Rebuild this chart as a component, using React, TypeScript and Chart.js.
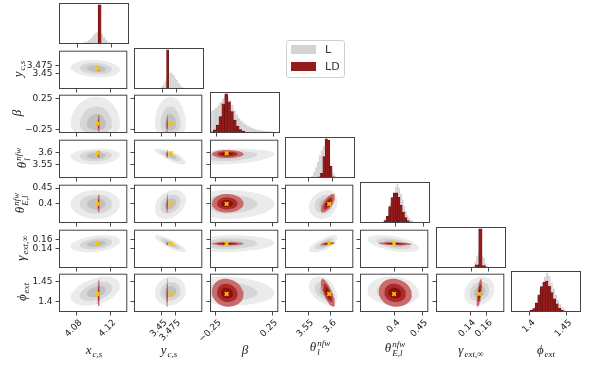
import React, { useEffect, useRef } from 'react';
import { Chart, registerables } from 'chart.js';

Chart.register(...registerables);

// ---------------- data ----------------
const axisMin = [4.059, 3.399, -0.303, 3.499, 0.3375, 0.099, 1.374];
const axisMax = [4.14, 3.525, 0.305, 3.649, 0.461, 0.181, 1.47];
const tickValues = [[4.08, 4.12], [3.45, 3.475], [-0.25, 0.25], [3.55, 3.6], [0.4, 0.45], [0.14, 0.16], [1.4, 1.45]];
const tickLabels = [['4.08', '4.12'], ['3.45', '3.475'], ['\u22120.25', '0.25'], ['3.55', '3.6'], ['0.4', '0.45'], ['0.14', '0.16'], ['1.4', '1.45']];
const truthValues = [4.105, 3.467, -0.155, 3.596, 0.399, 0.151, 1.419];

// histogram bins: [first bin centre, bin width] and heights
const xcsBinsL = [4.08375, 0.0025];
const xcsCountsL = [1, 2, 4, 6, 9, 14, 21, 27, 30, 28, 25, 17, 10, 5, 3, 1.5, 0.7];
const xcsBinsLD = [4.1025, 0.0035];
const xcsCountsLD = [0, 100, 0];
const ycsBinsL = [3.4465, 0.003];
const ycsCountsL = [2, 6, 11, 20, 30, 38, 42, 40, 35, 28, 22, 15, 9, 4, 2];
const ycsBinsLD = [3.4558, 0.0037];
const ycsCountsLD = [0, 100, 0];
const betaBinsL = [-0.29, 0.02];
const betaCountsL = [56, 59, 64, 70, 79, 88, 95, 93, 84, 72, 58, 47, 38, 31, 25, 21, 17, 14, 11.5, 9.5, 8, 7, 6, 5, 4.5, 4, 3.2, 2.6, 2.2, 1.8];
const betaBinsLD = [-0.2875, 0.025];
const betaCountsLD = [3, 8, 20, 42, 75, 100, 80, 55, 33, 18, 9, 4, 2, 1];
const thetaLBinsL = [3.554, 0.004];
const thetaLCountsL = [2, 6, 15, 27, 42, 58, 71, 82, 90, 75, 45, 26, 12, 6, 2, 1];
const thetaLBinsLD = [3.5725, 0.005];
const thetaLCountsLD = [3, 12, 55, 100, 97, 30, 3];
const thetaEBinsL = [0.3735, 0.003];
const thetaECountsL = [1, 2, 5, 10, 18, 33, 50, 65, 80, 92, 100, 90, 75, 60, 43, 30, 20, 12, 7, 4, 2.5, 1.5, 1];
const thetaEBinsLD = [0.378, 0.004];
const thetaECountsLD = [2, 6, 18, 42, 65, 76, 77, 66, 45, 28, 14, 6, 3, 1];
const gammaBinsL = [0.141, 0.002];
const gammaCountsL = [2, 5, 16, 30, 38, 40, 32, 26, 12, 4, 1.5];
const gammaBinsLD = [0.147, 0.004];
const gammaCountsLD = [8, 100, 6];
const phiBinsL = [1.3965, 0.003];
const phiCountsL = [1, 2, 5, 11, 26, 40, 58, 75, 90, 100, 92, 75, 60, 44, 30, 20, 12, 6, 3, 2, 1];
const phiBinsLD = [1.3985, 0.0035];
const phiCountsLD = [1, 4, 9, 22, 44, 65, 76, 79, 66, 50, 34, 21, 10, 4, 1];

// 2-D contour summaries: centre and lower / upper half-extent of the innermost contour
const centerL = [4.104, 3.466, -0.17, 3.588, 0.4, 0.151, 1.424];
const spreadLoL = [0.012, 0.011, 0.09, 0.014, 0.019, 0.007, 0.013];
const spreadHiL = [0.0105, 0.011, 0.17, 0.01, 0.017, 0.007, 0.015];
const centerLD = [4.106, 3.46, -0.156, 3.593, 0.4, 0.151, 1.421];
const spreadLoLD = [0.0005, 0.0006, 0.05, 0.006, 0.011, 0.0013, 0.013];
const spreadHiLD = [0.0005, 0.0006, 0.058, 0.006, 0.012, 0.0013, 0.014];
// correlations (row r, column c < r)
const corrRowsL = [[], [-0.15], [0, 0], [0.1, -0.8, 0.2], [0, 0.3, 0, 0.2], [0.3, -0.85, 0.1, 0.7, -0.5], [0.4, 0.1, -0.1, -0.4, -0.1, 0.2]];
const corrRowsLD = [[], [0], [0, 0], [0, 0, 0], [0, 0, 0, 0.7], [0, 0, 0, 0.5, -0.3], [0, 0, -0.1, -0.75, -0.1, 0.6]];

const binsL = [xcsBinsL, ycsBinsL, betaBinsL, thetaLBinsL, thetaEBinsL, gammaBinsL, phiBinsL];
const countsL = [xcsCountsL, ycsCountsL, betaCountsL, thetaLCountsL, thetaECountsL, gammaCountsL, phiCountsL];
const binsLD = [xcsBinsLD, ycsBinsLD, betaBinsLD, thetaLBinsLD, thetaEBinsLD, gammaBinsLD, phiBinsLD];
const countsLD = [xcsCountsLD, ycsCountsLD, betaCountsLD, thetaLCountsLD, thetaECountsLD, gammaCountsLD, phiCountsLD];

// ---------------- layout / style ----------------
const COL_LEFT = [59, 134, 210, 285, 360, 436, 511];
const ROW_TOP = [3, 48, 92, 137, 182, 227, 271];
const PW = 70;
const PH = 41;
const ML = 42;
const MR = 4;
const MT = 3;
const MB = 36;
const CW = ML + PW + MR;
const CH = MT + PH + MB;
const LEVELS = [2.6, 1.7, 1.0];
const GRAY_LEVELS = ['#ebebeb', '#d6d6d6', '#c0c0c0'];
const RED_LEVELS = ['#c96b6b', '#ab2b2b', '#8a0e0e'];
const GRAY_BAR = '#d3d3d3';
const RED_BAR = '#931b1b';
const tickFont = { family: "'DejaVu Sans', sans-serif", size: 9 };
const mathFont = "'Liberation Serif', 'DejaVu Serif', serif";

const framePlugin = {
  id: 'frame',
  afterDraw(chart: any) {
    const { ctx, chartArea: a } = chart;
    ctx.save();
    ctx.strokeStyle = '#444';
    ctx.lineWidth = 1;
    ctx.strokeRect(a.left + 0.5, a.top + 0.5, a.right - a.left - 1, a.bottom - a.top - 1);
    ctx.restore();
  },
};

function xAxis(c: number, labels: boolean) {
  return {
    type: 'linear',
    min: axisMin[c],
    max: axisMax[c],
    offset: false,
    grid: { display: true, drawOnChartArea: false, drawTicks: true, tickLength: 3.5, tickWidth: 0.9, tickColor: '#333', offset: false },
    border: { display: false },
    ticks: {
      display: labels, autoSkip: false, minRotation: 45, maxRotation: 45, padding: 2, labelOffset: 4,
      font: tickFont, color: '#222',
      callback: (_v: any, i: number) => tickLabels[c][i],
    },
    afterBuildTicks: (s: any) => { s.ticks = tickValues[c].map((v) => ({ value: v })); },
    afterFit: (s: any) => { s.height = MB; s.paddingLeft = 0; s.paddingRight = 0; s.paddingTop = 0; s.paddingBottom = 0; },
  };
}

function yAxis(r: number, labels: boolean) {
  return {
    type: 'linear',
    min: axisMin[r],
    max: axisMax[r],
    grid: { display: true, drawOnChartArea: false, drawTicks: true, tickLength: 3.5, tickWidth: 0.9, tickColor: '#333' },
    border: { display: false },
    ticks: {
      display: labels, autoSkip: false, padding: 3, font: tickFont, color: '#222',
      callback: (_v: any, i: number) => tickLabels[r][i],
    },
    afterBuildTicks: (s: any) => { s.ticks = tickValues[r].map((v) => ({ value: v })); },
    afterFit: (s: any) => { s.width = ML; s.paddingLeft = 0; s.paddingRight = 0; s.paddingTop = 0; s.paddingBottom = 0; },
  };
}

function histPoints(bins: number[], counts: number[]) {
  return counts.map((h, i) => ({ x: bins[0] + i * bins[1], y: h }));
}

function histConfig(c: number): any {
  const ymax = Math.max(...countsL[c], ...countsLD[c]) * 1.05;
  return {
    type: 'bar',
    data: {
      datasets: [
        {
          data: histPoints(binsLD[c], countsLD[c]), xAxisID: 'x2', yAxisID: 'y',
          backgroundColor: RED_BAR, borderColor: '#6a0c0c', borderWidth: 0.6,
          grouped: false, barPercentage: 1, categoryPercentage: 1, order: 1,
        },
        {
          data: histPoints(binsL[c], countsL[c]), xAxisID: 'x', yAxisID: 'y',
          backgroundColor: GRAY_BAR, borderColor: '#e6e6e6', borderWidth: 0.4,
          grouped: false, barPercentage: 1, categoryPercentage: 1, order: 2,
        },
      ],
    },
    options: {
      animation: false, responsive: false, devicePixelRatio: 1, events: [],
      layout: { padding: { left: 0, right: MR, top: MT, bottom: 0 } },
      plugins: { legend: { display: false }, tooltip: { enabled: false } },
      scales: {
        x: xAxis(c, c === 6),
        x2: {
          type: 'linear', display: false, min: axisMin[c], max: axisMax[c], offset: false,
          afterBuildTicks: (s: any) => { s.ticks = [{ value: axisMin[c] }]; },
        },
        y: {
          type: 'linear', min: 0, max: ymax,
          grid: { display: false }, border: { display: false }, ticks: { display: false },
          afterFit: (s: any) => { s.width = ML; s.paddingTop = 0; s.paddingBottom = 0; },
        },
      },
    },
    plugins: [framePlugin],
  };
}

function contour(c: number, r: number, center: number[], lo: number[], hi: number[], rho: number, k: number) {
  const pts: { x: number; y: number }[] = [];
  const n = 72;
  const q = Math.sqrt(1 - rho * rho);
  for (let i = 0; i <= n; i++) {
    const t = (2 * Math.PI * i) / n;
    const zx = Math.cos(t);
    const zy = rho * Math.cos(t) + q * Math.sin(t);
    pts.push({
      x: center[c] + k * (zx < 0 ? lo[c] : hi[c]) * zx,
      y: center[r] + k * (zy < 0 ? lo[r] : hi[r]) * zy,
    });
  }
  return pts;
}

function pairConfig(r: number, c: number): any {
  const datasets: any[] = [];
  LEVELS.forEach((k, i) => {
    datasets.push({
      type: 'line', data: contour(c, r, centerL, spreadLoL, spreadHiL, corrRowsL[r][c], k),
      backgroundColor: GRAY_LEVELS[i], borderWidth: 0, pointRadius: 0, fill: 'shape', tension: 0, order: 30 - i,
    });
  });
  LEVELS.forEach((k, i) => {
    datasets.push({
      type: 'line', data: contour(c, r, centerLD, spreadLoLD, spreadHiLD, corrRowsLD[r][c], k),
      backgroundColor: RED_LEVELS[i], borderWidth: 0, pointRadius: 0, fill: 'shape', tension: 0, order: 20 - i,
    });
  });
  datasets.push({
    type: 'line', data: [{ x: truthValues[c], y: truthValues[r] }], showLine: false,
    pointStyle: 'crossRot', pointRadius: 2.6, pointBorderWidth: 1.7,
    pointBorderColor: '#f7c600', pointBackgroundColor: '#f7c600', order: 0,
  });
  return {
    type: 'line',
    data: { datasets },
    options: {
      animation: false, responsive: false, devicePixelRatio: 1, events: [],
      layout: { padding: { left: 0, right: MR, top: MT, bottom: 0 } },
      plugins: { legend: { display: false }, tooltip: { enabled: false } },
      scales: { x: xAxis(c, r === 6), y: yAxis(r, c === 0) },
    },
    plugins: [framePlugin],
  };
}

function Panel({ r, c }: { r: number; c: number }) {
  const ref = useRef<HTMLCanvasElement>(null);
  useEffect(() => {
    const cfg = r === c ? histConfig(c) : pairConfig(r, c);
    const chart = new Chart(ref.current as HTMLCanvasElement, cfg);
    return () => chart.destroy();
  }, [r, c]);
  return (
    <canvas
      ref={ref}
      width={CW}
      height={CH}
      style={{ position: 'absolute', left: COL_LEFT[c] - ML, top: ROW_TOP[r] - MT, width: CW, height: CH }}
    />
  );
}

function M({ base, sub, sup }: { base: string; sub?: string; sup?: string }) {
  const va = sub && sup ? 5 : sub ? -3 : 5;
  return (
    <span style={{ fontFamily: mathFont, fontStyle: 'italic', fontSize: 13, whiteSpace: 'nowrap', lineHeight: '14px', color: '#222' }}>
      {base}
      {sub || sup ? (
        <span style={{ display: 'inline-flex', flexDirection: 'column', fontSize: 9, lineHeight: '9px', verticalAlign: va, marginLeft: 1 }}>
          {sup ? <span>{sup}</span> : null}
          {sub ? <span>{sub}</span> : null}
        </span>
      ) : null}
    </span>
  );
}

const axisTitles = [
  { base: 'x', sub: 'c,s' },
  { base: 'y', sub: 'c,s' },
  { base: '\u03b2' },
  { base: '\u03b8', sub: 'l', sup: 'nfw' },
  { base: '\u03b8', sub: 'E,l', sup: 'nfw' },
  { base: '\u03b3', sub: 'ext,\u221e' },
  { base: '\u03d5', sub: 'ext' },
];
const yTitleX = [0, 17, 16, 22, 20, 20, 21];
const xTitleY = [349, 349, 349, 347, 348, 349, 349];

export default function App() {
  const panels: JSX.Element[] = [];
  for (let r = 0; r < 7; r++) {
    for (let c = 0; c <= r; c++) panels.push(<Panel key={`${r}-${c}`} r={r} c={c} />);
  }
  return (
    <div style={{ position: 'absolute', left: 0, top: 0, width: 598, height: 367, background: '#fff', overflow: 'hidden' }}>
      {panels}
      {axisTitles.map((t, c) => (
        <div key={`xt${c}`} style={{ position: 'absolute', left: COL_LEFT[c] + PW / 2, top: xTitleY[c], transform: 'translate(-50%, -50%)' }}>
          <M {...t} />
        </div>
      ))}
      {axisTitles.map((t, r) =>
        r === 0 ? null : (
          <div key={`yt${r}`} style={{ position: 'absolute', left: yTitleX[r], top: ROW_TOP[r] + PH / 2, transform: 'translate(-50%, -50%) rotate(-90deg)' }}>
            <M {...t} />
          </div>
        )
      )}
      <div style={{ position: 'absolute', left: 286, top: 40, width: 57, height: 36, border: '1px solid #d0d0d0', borderRadius: 3, background: 'rgba(255,255,255,0.85)', fontFamily: "'DejaVu Sans', sans-serif", fontSize: 11, color: '#333' }}>
        <div style={{ position: 'absolute', left: 4, top: 4, width: 25, height: 9, background: GRAY_BAR }} />
        <div style={{ position: 'absolute', left: 38, top: 2, lineHeight: '13px' }}>L</div>
        <div style={{ position: 'absolute', left: 4, top: 21, width: 25, height: 9, background: RED_BAR }} />
        <div style={{ position: 'absolute', left: 38, top: 19, lineHeight: '13px' }}>LD</div>
      </div>
    </div>
  );
}
